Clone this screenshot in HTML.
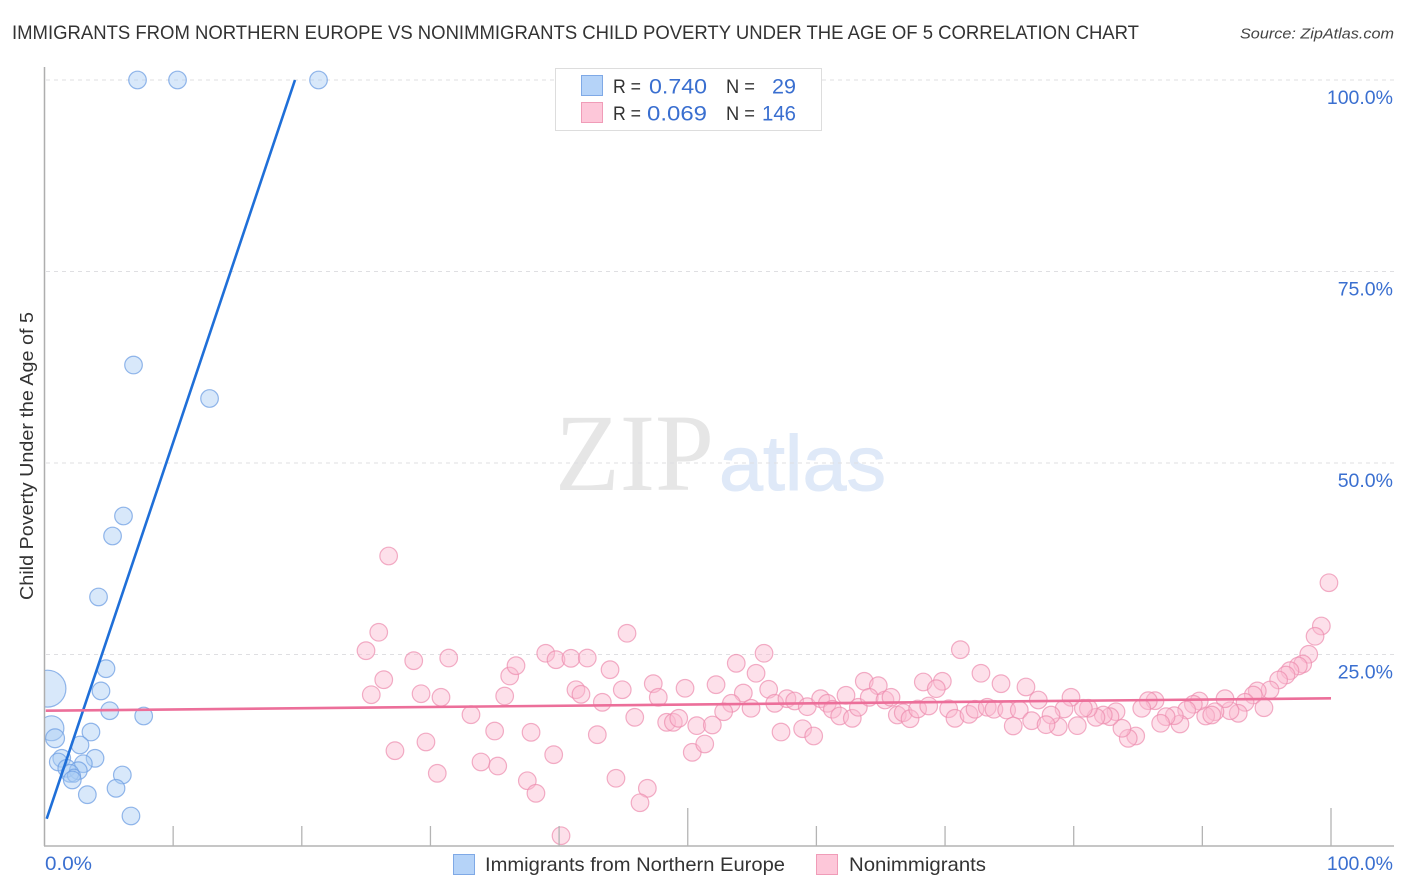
<!DOCTYPE html>
<html lang="en">
<head>
<meta charset="utf-8">
<title>Immigrants from Northern Europe vs Nonimmigrants Child Poverty Correlation Chart</title>
<style>
html,body{margin:0;padding:0;background:#fff;}
svg{display:block;font-family:"Liberation Sans",sans-serif;}
</style>
</head>
<body>
<svg id="chart" xmlns="http://www.w3.org/2000/svg" width="1406" height="892" viewBox="0 0 1406 892">
  <rect x="0" y="0" width="1406" height="892" fill="#ffffff"/>

  <g>
    <text x="555" y="490" font-family="'Liberation Serif',serif" font-size="110" fill="#e6e6e6" textLength="159" lengthAdjust="spacingAndGlyphs">ZIP</text>
    <text x="719" y="490" font-size="78" fill="#dfe9f8" stroke="#dfe9f8" stroke-width="1" textLength="167" lengthAdjust="spacingAndGlyphs">atlas</text>
  </g>

  <g id="grid"></g>
  <g id="blue-points"></g>
  <g id="pink-points"></g>
  <rect x="0" y="60" width="44.5" height="790" fill="#ffffff"/>
  <g id="axes"></g>
  <g id="trend-lines"></g>
  <g id="tick-labels"></g>

  <text x="12" y="39" font-size="19.5" fill="#333333" textLength="1127" lengthAdjust="spacingAndGlyphs">IMMIGRANTS FROM NORTHERN EUROPE VS NONIMMIGRANTS CHILD POVERTY UNDER THE AGE OF 5 CORRELATION CHART</text>
  <text x="1394" y="38.5" font-size="15" font-style="italic" fill="#444444" text-anchor="end" textLength="154" lengthAdjust="spacingAndGlyphs">Source: ZipAtlas.com</text>

  <text transform="translate(33,456) rotate(-90)" font-size="18.5" fill="#333333" text-anchor="middle" textLength="288" lengthAdjust="spacingAndGlyphs">Child Poverty Under the Age of 5</text>

  <g>
    <rect x="555.5" y="68.5" width="266" height="62" fill="#ffffff" stroke="#dddddd" stroke-width="1"/>
    <rect x="581.5" y="75.5" width="21" height="20" fill="#b5d3f8" stroke="#7fa9e6" stroke-width="1"/>
    <rect x="581.5" y="102.5" width="21" height="20" fill="#fdc7d9" stroke="#f09cb8" stroke-width="1"/>
    <g font-size="19.5" fill="#333333">
      <text x="613" y="93" textLength="28" lengthAdjust="spacingAndGlyphs">R =</text>
      <text x="726" y="93" textLength="29" lengthAdjust="spacingAndGlyphs">N =</text>
      <text x="613" y="120" textLength="28" lengthAdjust="spacingAndGlyphs">R =</text>
      <text x="726" y="120" textLength="29" lengthAdjust="spacingAndGlyphs">N =</text>
    </g>
    <g font-size="21.5" fill="#3a6fd0">
      <text x="649" y="93.5" textLength="58" lengthAdjust="spacingAndGlyphs">0.740</text>
      <text x="772" y="93.5" textLength="24" lengthAdjust="spacingAndGlyphs">29</text>
      <text x="647" y="120.5" textLength="60" lengthAdjust="spacingAndGlyphs">0.069</text>
      <text x="762" y="120.5" textLength="34" lengthAdjust="spacingAndGlyphs">146</text>
    </g>
  </g>

  <g>
    <rect x="453.5" y="854.5" width="21" height="20" fill="#b5d3f8" stroke="#7fa9e6" stroke-width="1"/>
    <text x="485" y="871" font-size="19.5" fill="#333333" textLength="300" lengthAdjust="spacingAndGlyphs">Immigrants from Northern Europe</text>
    <rect x="816.5" y="854.5" width="21" height="20" fill="#fdc7d9" stroke="#f09cb8" stroke-width="1"/>
    <text x="849" y="871" font-size="19.5" fill="#333333" textLength="137" lengthAdjust="spacingAndGlyphs">Nonimmigrants</text>
  </g>
</svg>

<script>
// ---- chart data (percent values) ----
const xTickValues = [10, 20, 30, 40, 50, 60, 70, 80, 90, 100];
const majorXTicks = [50, 100];
const yTickValues = [100, 75, 50, 25];
const yTickLabels = ["100.0%", "75.0%", "50.0%", "25.0%"];
const xEndLabels = ["0.0%", "100.0%"];

const immigrantsX = [4.78,4.39,5.07,7.71,0.23,0.54,0.82,3.61,2.76,3.93,1.34,1.07,3.02,1.73,2.63,1.98,2.29,2.16,6.05,5.56,3.33,6.72,7.23,10.34,21.30,6.92,12.83,6.14,5.29,4.20];
const immigrantsY = [23.15,20.24,17.66,16.97,20.54,15.37,14.06,14.88,13.19,11.45,11.45,10.97,10.74,10.14,9.83,9.49,9.18,8.62,9.27,7.53,6.70,3.92,100,100,100,62.79,58.42,43.08,40.47,32.51];
const immigrantsWeight = [1,1,1,1,4.4,2,1.15,1,1,1,1,1,1,1,1,1,0.55,1,1,1,1,1,1,1,1,1,1,1,1,1];

const nonimmigrantsX = [26.75,25.98,24.99,28.70,31.42,26.37,25.40,29.27,30.82,33.15,34.99,27.24,29.65,30.53,33.93,35.23,37.82,37.53,38.20,39.58,40.15,35.77,36.16,36.65,38.96,39.76,40.92,42.19,43.96,45.28,41.31,41.70,43.36,44.91,47.32,47.71,49.79,45.88,42.97,48.36,48.88,49.30,50.70,50.35,44.42,46.86,46.29,51.32,
52.20,53.77,55.93,55.31,54.32,56.29,53.39,52.79,54.92,56.76,57.71,58.31,59.29,60.33,60.85,61.24,62.30,61.81,62.79,63.26,63.72,64.81,64.11,65.33,65.80,66.29,66.75,67.28,67.87,68.73,68.31,69.79,69.32,71.19,72.79,74.35,76.29,70.28,70.77,71.86,72.33,73.28,73.80,74.79,75.77,75.30,76.73,77.25,57.25,58.93,59.79,51.91,
99.84,99.25,98.76,98.27,97.80,97.46,96.81,96.50,95.93,95.26,94.27,93.96,93.32,94.79,92.79,92.15,91.76,90.98,90.26,90.73,89.76,89.30,88.78,88.26,87.82,87.18,86.76,86.32,85.80,85.29,84.82,84.24,83.75,83.29,82.82,82.30,81.73,81.14,80.75,80.28,79.79,79.25,78.80,78.24,77.85];
const nonimmigrantsY = [37.86,27.90,25.50,24.19,24.54,21.71,19.75,19.88,19.41,17.14,15.01,12.44,13.58,9.49,10.97,10.44,14.84,8.52,6.88,11.92,1.34,19.58,22.19,23.54,25.16,24.32,24.50,24.54,23.02,27.77,20.40,19.80,18.76,20.40,21.19,19.41,20.59,16.80,14.53,16.15,16.15,16.67,15.71,12.23,8.84,7.53,5.65,13.32,
21.06,23.85,25.16,22.55,19.97,20.46,18.63,17.53,17.98,18.63,19.23,18.93,18.19,19.23,18.63,17.85,19.67,16.97,16.67,18.11,21.50,20.93,19.41,19.06,19.41,17.10,17.40,16.62,17.89,18.28,21.41,21.50,20.54,25.63,22.55,21.19,20.76,17.92,16.67,17.19,17.85,18.11,17.85,17.75,17.75,15.67,16.36,19.06,14.88,15.31,14.36,15.80,
34.37,28.72,27.38,25.03,23.76,23.50,22.89,22.32,21.67,20.37,20.24,19.71,18.76,18.05,17.32,17.66,19.23,17.53,16.97,17.10,18.93,18.50,17.75,15.93,17.01,16.88,16.02,18.97,18.97,17.98,14.36,14.06,15.37,17.53,16.88,17.10,16.80,17.98,17.98,15.71,19.41,17.89,15.57,17.10,15.84];

// trend lines: [intercept, slope] and the x range over which each is drawn
const immigrantsTrend = [2.71, 4.997];
const immigrantsTrendRange = [0.17, 19.47];
const nonimmigrantsTrend = [17.66, 0.0162];
const nonimmigrantsTrendRange = [0.1, 100];

// ---- axis functions ----
const SVGNS = "http://www.w3.org/2000/svg";
function xScale(v) { return 44.5 + v * 12.865; }
function yScale(v) { return 846 - v * 7.66; }
function radius(w) { return 8.8 * Math.sqrt(w); }
function make(tag, attrs, parent) {
  const el = document.createElementNS(SVGNS, tag);
  for (const k in attrs) el.setAttribute(k, attrs[k]);
  parent.appendChild(el);
  return el;
}

// ---- gridlines ----
const gridGroup = document.getElementById("grid");
yTickValues.forEach(function (v) {
  const el = make("line", {x1: 46, x2: 1394, y1: yScale(v), y2: yScale(v), stroke: "#dfdfe2", "stroke-width": 1, "stroke-dasharray": "4 4"}, gridGroup);
  
  
});

// ---- axes and ticks ----
const axesGroup = document.getElementById("axes");
const yAxisLine = make("line", {x1: 44.5, x2: 44.5, y1: 67, y2: 846, stroke: "#aeaeae", "stroke-width": 1.5}, axesGroup);


const xAxisLine = make("line", {x1: 44, x2: 1394, y1: 846, y2: 846, stroke: "#b4b4b4", "stroke-width": 1.5}, axesGroup);


xTickValues.forEach(function (v) {
  const top = majorXTicks.indexOf(v) >= 0 ? 808 : 826;
  const el = make("line", {x1: xScale(v), x2: xScale(v), y1: top, y2: 846, stroke: "#b4b4b4", "stroke-width": 1.3}, axesGroup);
  
  
});

// ---- tick labels ----
const labelGroup = document.getElementById("tick-labels");
yTickValues.forEach(function (v, i) {
  const el = make("text", {x: 1393, y: yScale(v) + 24, "font-size": 19.5, fill: "#3a6fd0", "text-anchor": "end"}, labelGroup);
  
  
  el.textContent = yTickLabels[i];
});
const xLabelLeft = make("text", {x: 45, y: 870, "font-size": 19.5, fill: "#3a6fd0", textLength: 47, lengthAdjust: "spacingAndGlyphs"}, labelGroup);


xLabelLeft.textContent = xEndLabels[0];
const xLabelRight = make("text", {x: 1393, y: 870, "font-size": 19.5, fill: "#3a6fd0", "text-anchor": "end"}, labelGroup);


xLabelRight.textContent = xEndLabels[1];

// ---- points ----
const blueGroup = document.getElementById("blue-points");
immigrantsX.forEach(function (v, i) {
  const el = make("circle", {cx: xScale(v), cy: yScale(immigrantsY[i]), r: radius(immigrantsWeight[i]), fill: "#a9cbf5", "fill-opacity": 0.45, stroke: "#6f9fe3", "stroke-opacity": 0.75, "stroke-width": 1.2}, blueGroup);
  
  
});
const pinkGroup = document.getElementById("pink-points");
nonimmigrantsX.forEach(function (v, i) {
  const el = make("circle", {cx: xScale(v), cy: yScale(nonimmigrantsY[i]), r: radius(1), fill: "#fbbad0", "fill-opacity": 0.45, stroke: "#ec8cae", "stroke-opacity": 0.7, "stroke-width": 1.2}, pinkGroup);
  
  
});

// ---- trend lines ----
const trendGroup = document.getElementById("trend-lines");
function trendY(t, x) { return t[0] + t[1] * x; }
const blueTrend = make("line", {x1: xScale(immigrantsTrendRange[0]), y1: yScale(trendY(immigrantsTrend, immigrantsTrendRange[0])), x2: xScale(immigrantsTrendRange[1]), y2: yScale(trendY(immigrantsTrend, immigrantsTrendRange[1])), stroke: "#1f6fd8", "stroke-width": 2.6}, trendGroup);


const pinkTrend = make("line", {x1: xScale(nonimmigrantsTrendRange[0]), y1: yScale(trendY(nonimmigrantsTrend, nonimmigrantsTrendRange[0])), x2: xScale(nonimmigrantsTrendRange[1]), y2: yScale(trendY(nonimmigrantsTrend, nonimmigrantsTrendRange[1])), stroke: "#ec6f9a", "stroke-width": 2.6}, trendGroup);


</script>
</body>
</html>
